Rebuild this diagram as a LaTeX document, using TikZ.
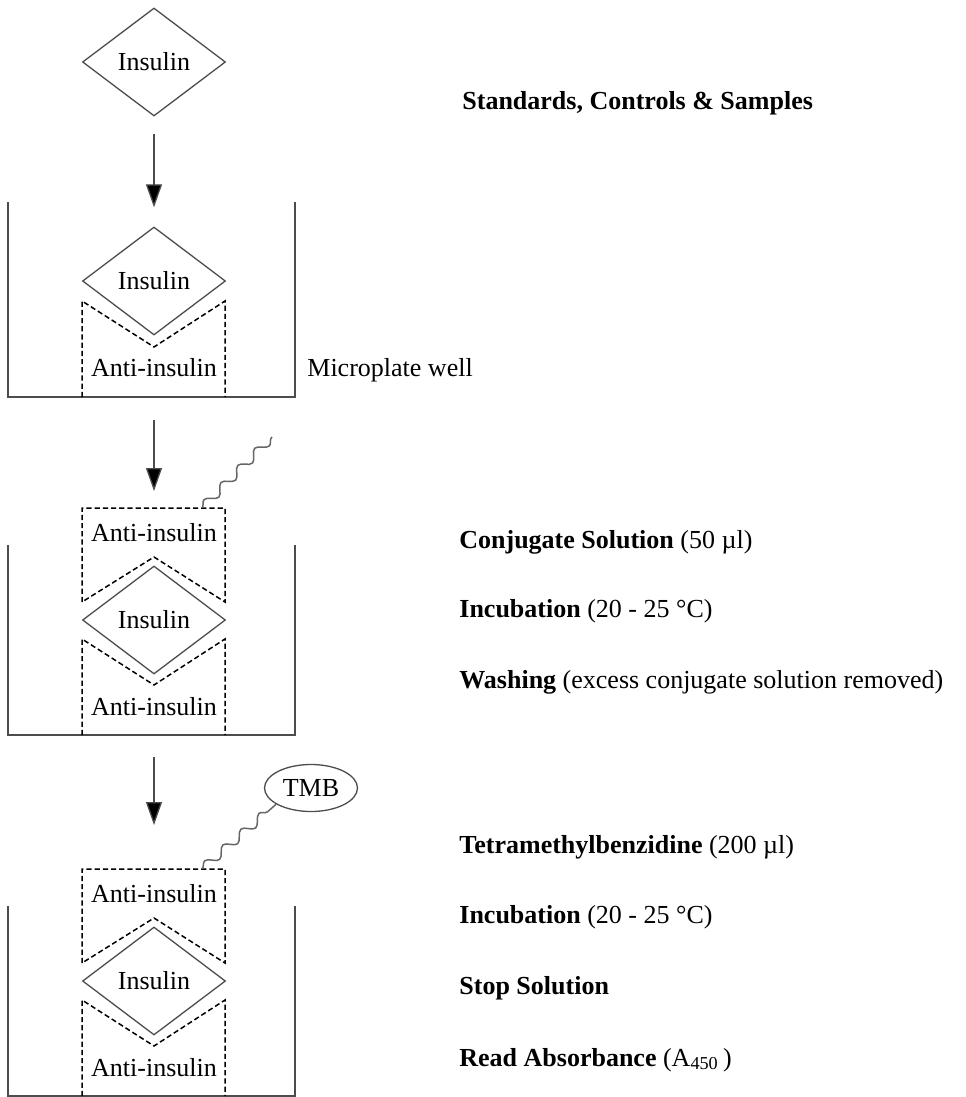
\documentclass[tikz,border=0pt]{standalone}
\usepackage{fontspec}
\setmainfont{Liberation Serif}
\usetikzlibrary{shapes.geometric,arrows.meta,decorations.pathmorphing}

\tikzset{
  wall/.style={draw=black!70,line width=0.65pt},
  antibody/.style={draw=black,line width=0.75pt,dash pattern=on 2.6pt off 1.5pt},
  antigen/.style={shape=diamond,draw=black!70,line width=0.65pt,
    minimum width=71.5pt,minimum height=54pt,inner sep=0pt},
  flow/.style={draw=black!70,line width=0.65pt,
    -{Triangle[length=11.5pt,width=8pt,fill=black]}},
  link/.style={draw=black!60,line width=0.75pt,decorate,
    decoration={snake,segment length=12pt,amplitude=2.2pt}},
  note/.style={anchor=base west,inner sep=0pt},
  label/.style={anchor=base,inner sep=0pt}
}

\begin{document}
\begin{tikzpicture}[x=0.5pt,y=-0.5pt,font=\fontsize{13}{15}\selectfont]
\useasboundingbox (0,0) rectangle (965,1097);

% sample added to the well
\node[antigen] (ins0) at (154,62) {Insulin};
\node[antigen] (ins1) at (154,281) {Insulin};
\draw[wall] (8,202) -- (8,397) -- (295,397) -- (295,202);
\draw[antibody] (82,397) -- (82,301) -- (154,347) -- (225,301) -- (225,397);
\node[label] (ab1) at (154,376) {Anti-insulin};
\node[note] (well) at (307,376) {Microplate well};
\coordinate (floor1) at (154,397);
\draw[flow,shorten <=8.5pt,shorten >=9.5pt] (ins0) -- (ins1);

% conjugate and TMB steps
\foreach \dy/\k in {0/2,361/3}{
  \begin{scope}[shift={(0,\dy)}]
    \draw[wall] (8,545) -- (8,735) -- (295,735) -- (295,545);
    \draw[antibody] (82,602) -- (82,508) -- (225,508) -- (225,602) -- (154,557) -- cycle;
    \node[label] (abtop\k) at (154,541) {Anti-insulin};
    \node[antigen] (ins\k) at (154,620) {Insulin};
    \draw[antibody] (82,735) -- (82,639) -- (154,685) -- (225,639) -- (225,735);
    \node[label] (ab\k) at (154,715) {Anti-insulin};
    \coordinate (cap\k) at (154,508);
    \coordinate (tag\k) at (202,508);
    \coordinate (floor\k) at (154,735);
  \end{scope}
}

\draw[flow,shorten <=11.5pt,shorten >=8.5pt] (floor1) -- (cap2);
\draw[flow,shorten <=11pt,shorten >=22pt] (floor2) -- (cap3);

\coordinate (free2) at (272,437);
\draw[link] (tag2) -- (free2);
\node[draw=black!70,line width=0.65pt,ellipse,minimum width=46.5pt,minimum height=23.5pt,inner sep=0pt] (tmb) at (311,788) {TMB};
\draw[link] (tag3) -- (tmb.205);

% steps
\node[note] (std) at (462,110) {\textbf{Standards, Controls \& Samples}};
\node[note] (conj) at (459,548) {\textbf{Conjugate Solution} (50 µl)};
\node[note] (incA) at (459,617) {\textbf{Incubation} (20 - 25 °C)};
\node[note] (wash) at (459,688) {\textbf{Washing} (excess conjugate solution removed)};
\node[note] (tmbtxt) at (459,853) {\textbf{Tetramethylbenzidine} (200 µl)};
\node[note] (incB) at (459,923) {\textbf{Incubation} (20 - 25 °C)};
\node[note] (stop) at (459,994) {\textbf{Stop Solution}};
\node[note] (read) at (459,1066) {\textbf{Read Absorbance} (A\textsubscript{450}\,)};
\end{tikzpicture}
\end{document}
